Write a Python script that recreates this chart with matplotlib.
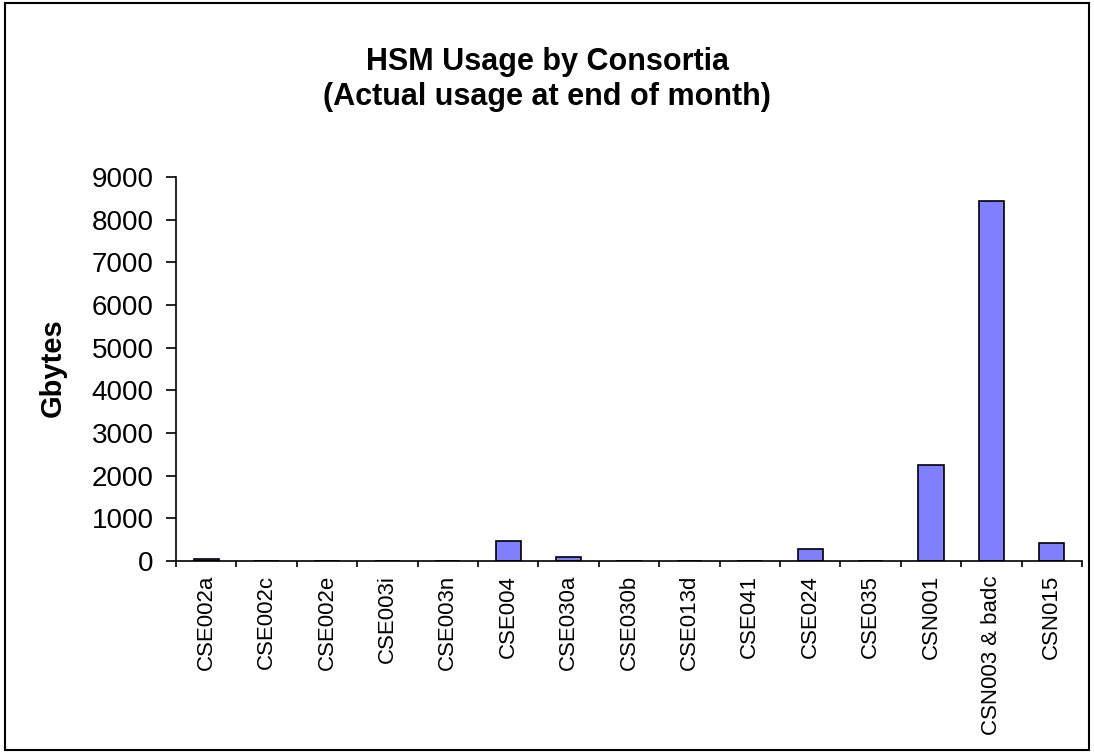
import matplotlib
matplotlib.use("Agg")
import matplotlib.pyplot as plt
import numpy as np
from matplotlib.patches import Rectangle

categories = ["CSE002a", "CSE002c", "CSE002e", "CSE003i", "CSE003n", "CSE004",
              "CSE030a", "CSE030b", "CSE013d", "CSE041", "CSE024", "CSE035",
              "CSN001", "CSN003 & badc", "CSN015"]
values = [50, 0, 0, 0, 0, 475, 95, 0, 0, 0, 280, 0, 2250, 8430, 420]
yticks = [0, 1000, 2000, 3000, 4000, 5000, 6000, 7000, 8000, 9000]

plt.rcParams['font.family'] = ['Liberation Sans', 'DejaVu Sans']

W, H = 1094, 753
fig = plt.figure(figsize=(W / 100, H / 100), dpi=100)
fig.patches.append(Rectangle((0.005, 0.004), 0.99, 0.992, transform=fig.transFigure,
                             fill=False, edgecolor='black', linewidth=1.5))
ax = fig.add_axes([176 / W, 1 - 561 / H, (1082 - 176) / W, (561 - 177) / H])
x = np.arange(len(categories))
ax.bar(x, values, width=0.42, color='#8080FF', edgecolor='black', linewidth=1.2)
ax.set_xlim(-0.5, len(categories) - 0.5)
ax.set_ylim(0, 9000)
ax.set_yticks(yticks)
ax.set_yticklabels([str(v) for v in yticks], fontsize=20)
ax.tick_params(axis='y', direction='out', length=7, width=1.2, pad=9)
ax.set_xticks(x)
ax.set_xticklabels(categories, rotation=90, fontsize=16)
ax.tick_params(axis='x', length=0, pad=10)
ax.set_xticks(np.arange(len(categories) + 1) - 0.5, minor=True)
ax.tick_params(axis='x', which='minor', direction='out', length=4.5, width=1.2)
for s in ['top', 'right']:
    ax.spines[s].set_visible(False)
for s in ['left', 'bottom']:
    ax.spines[s].set_linewidth(1.2)
fig.text(53 / W, 1 - 368 / H, 'Gbytes', rotation=90, ha='center', va='center',
         fontsize=21, fontweight='bold')
fig.text(0.5, 1 - 62 / H, 'HSM Usage by Consortia', ha='center', va='center',
         fontsize=22, fontweight='bold')
fig.text(0.5, 1 - 97 / H, '(Actual usage at end of month)', ha='center', va='center',
         fontsize=22, fontweight='bold')
fig.savefig('out.png', dpi=100)
